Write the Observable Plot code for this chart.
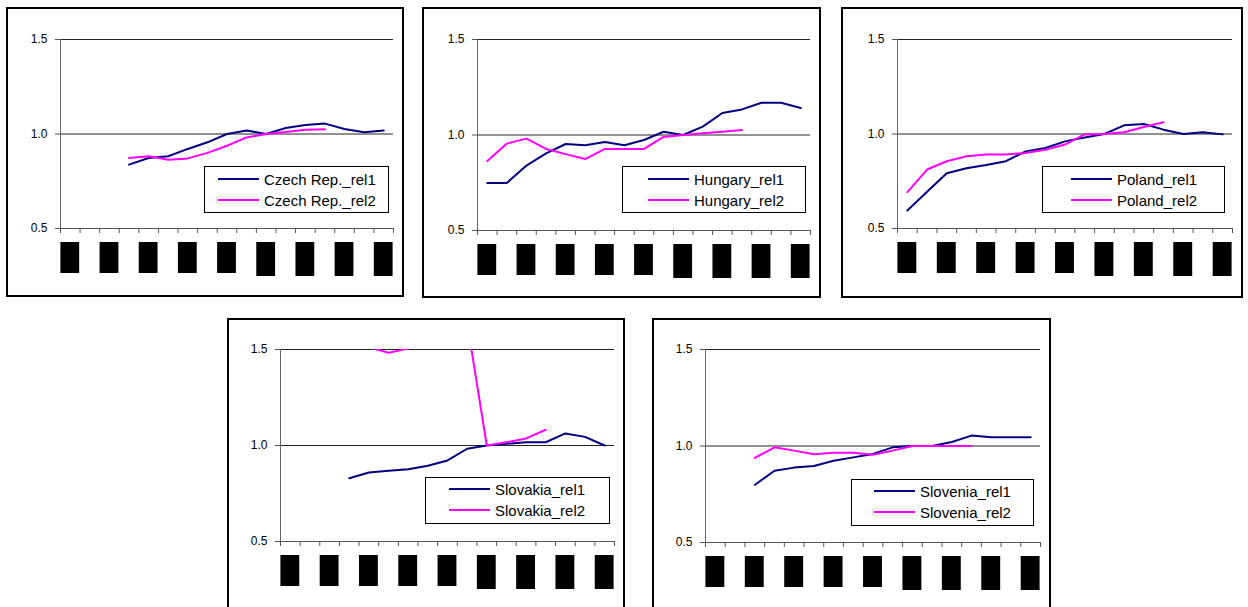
<!DOCTYPE html>
<html>
<head>
<meta charset="utf-8">
<script src="https://cdn.jsdelivr.net/npm/d3@7"></script>
<script src="https://cdn.jsdelivr.net/npm/@observablehq/plot@0.6"></script>
<style>
  html, body { margin: 0; padding: 0; background: #fff; }
  body { width: 1248px; height: 607px; overflow: hidden; position: relative;
         font-family: "Liberation Sans", Arial, sans-serif; }
  .frame { position: absolute; border: 2px solid #000; box-sizing: border-box; background: #fff; }
  .chart { position: absolute; }
  .legend { position: absolute; border: 1px solid #000; box-sizing: border-box; background: #fff; }
  .legend .sw { position: absolute; height: 2px; width: 41px; }
  .legend .lb { position: absolute; font-size: 15px; line-height: 17px; white-space: nowrap; color: #000; }
</style>
</head>
<body>
<script>
// ---- data ----
const years = ["1990","1991","1992","1993","1994","1995","1996","1997","1998","1999",
               "2000","2001","2002","2003","2004","2005","2006"];
const tickLabels = ["1990","1992","1994","1996","1998","2000","2002","2004","2006"];
const yTicks = [0.5, 1.0, 1.5];

const czechRel1    = [null,null,null,0.838,0.873,0.882,0.921,0.956,1.000,1.019,1.000,1.032,1.048,1.055,1.026,1.009,1.018];
const czechRel2    = [null,null,null,0.873,0.882,0.864,0.871,0.900,0.938,0.982,1.000,1.010,1.023,1.025,null,null,null];
const hungaryRel1  = [0.749,0.749,0.840,0.904,0.953,0.946,0.963,0.946,0.974,1.017,1.000,1.044,1.115,1.134,1.169,1.169,1.141];
const hungaryRel2  = [0.864,0.955,0.981,0.927,0.900,0.874,0.927,0.927,0.927,0.990,1.000,1.009,1.017,1.026,null,null,null];
const polandRel1   = [0.595,0.694,0.792,0.819,0.836,0.856,0.908,0.926,0.961,0.982,1.000,1.046,1.053,1.023,1.000,1.009,0.998];
const polandRel2   = [0.692,0.812,0.856,0.882,0.891,0.891,0.900,0.917,0.944,0.998,1.000,1.009,1.037,1.062,null,null,null];
const slovakiaRel1 = [null,null,null,0.829,0.859,0.868,0.876,0.895,0.922,0.983,1.000,1.009,1.017,1.017,1.063,1.045,1.000];
const slovakiaRel2 = [null,null,null,1.550,1.512,1.483,1.505,1.550,1.600,1.640,1.000,1.017,1.037,1.082,null,null,null];
const sloveniaRel1 = [null,null,0.798,0.872,0.888,0.896,0.924,0.941,0.959,0.993,1.000,1.000,1.021,1.054,1.045,1.045,1.045];
const sloveniaRel2 = [null,null,0.938,0.993,0.976,0.957,0.965,0.965,0.955,0.976,1.000,1.000,1.000,1.000,null,null,null];

const seriesNames = ["_rel1", "_rel2"];
const colors = ["#000080", "#ff00ff"];

// ---- layout (page pixels) ----
const panels = [
  {name: "Czech Rep.", r1: czechRel1,    r2: czechRel2,
   frame: {l: 6, t: 7, w: 398, h: 290}, area: {x0: 60, x1: 393, yT: 39, yB: 228},
   legend: {l: 204, t: 166, w: 185, h: 47, pad: 14, rows: [13, 34]}},
  {name: "Hungary",    r1: hungaryRel1,  r2: hungaryRel2,
   frame: {l: 422, t: 7, w: 399, h: 291}, area: {x0: 477, x1: 810, yT: 39, yB: 230},
   legend: {l: 622, t: 166, w: 184, h: 47, pad: 26, rows: [13, 34]}},
  {name: "Poland",     r1: polandRel1,   r2: polandRel2,
   frame: {l: 841, t: 7, w: 402, h: 291}, area: {x0: 897, x1: 1232, yT: 39, yB: 228},
   legend: {l: 1042, t: 166, w: 183, h: 47, pad: 29, rows: [13, 34]}},
  {name: "Slovakia",   r1: slovakiaRel1, r2: slovakiaRel2,
   frame: {l: 227, t: 318, w: 398, h: 302}, area: {x0: 280, x1: 614, yT: 349, yB: 541},
   legend: {l: 425, t: 477, w: 185, h: 47, pad: 24, rows: [12, 33]}},
  {name: "Slovenia",   r1: sloveniaRel1, r2: sloveniaRel2,
   frame: {l: 652, t: 318, w: 399, h: 302}, area: {x0: 705, x1: 1040, yT: 349, yB: 542},
   legend: {l: 851, t: 479, w: 183, h: 47, pad: 23, rows: [12, 33]}}
];

const bounds = d3.range(-0.5, years.length, 1);

for (const p of panels) {
  const f = p.frame, a = p.area;
  const frameDiv = document.createElement("div");
  frameDiv.className = "frame";
  Object.assign(frameDiv.style, {left: f.l + "px", top: f.t + "px", width: f.w + "px", height: f.h + "px"});
  document.body.appendChild(frameDiv);

  const toRows = (vals) => vals.map((v, i) => ({i, year: years[i], v})).filter(d => d.v != null);
  const rows1 = toRows(p.r1), rows2 = toRows(p.r2);
  const pxPerUnit = (a.yB - a.yT) / 1.0;
  const boxes = tickLabels.map(lab => {
    const i = years.indexOf(lab);
    const tall = +lab >= 2000;
    return {i, label: lab,
            top: 0.5 - 14 / pxPerUnit,
            bottom: 0.5 - (tall ? 48 : 45) / pxPerUnit};
  });

  const chart = Plot.plot({
    width: f.w, height: f.h,
    marginLeft: a.x0 - f.l, marginRight: f.l + f.w - a.x1,
    marginTop: a.yT - f.t, marginBottom: f.t + f.h - a.yB,
    x: {type: "linear", domain: [-0.5, years.length - 0.5], axis: null, label: null},
    y: {type: "linear", domain: [0.5, 1.5], axis: null, label: null},
    style: {background: "transparent", fontFamily: "Liberation Sans, Arial, sans-serif", overflow: "visible"},
    marks: [
      Plot.ruleY([1.0, 1.5], {stroke: "#222", strokeWidth: 1}),
      Plot.ruleY([0.5], {stroke: "#555", strokeWidth: 1}),
      Plot.ruleX([-0.5], {stroke: "#666", strokeWidth: 1}),
      Plot.axisY(yTicks, {tickSize: 5, tickPadding: 8, tickFormat: d3.format(".1f"), label: null,
                          fontSize: 12, stroke: "#555", fill: "#000"}),
      Plot.axisX(bounds, {tickSize: 5, tickFormat: () => "", label: null, stroke: "#555"}),
      Plot.rect(boxes, {x1: d => d.i - 0.5, x2: d => d.i + 0.5, y1: "top", y2: "bottom",
                        fill: "#000", insetLeft: 0.4, insetRight: 0.4}),
      Plot.line(rows1, {x: "i", y: "v", stroke: colors[0], strokeWidth: 2, clip: true}),
      Plot.line(rows2, {x: "i", y: "v", stroke: colors[1], strokeWidth: 2, clip: true})
    ]
  });
  chart.classList.add("chart");
  chart.style.left = f.l + "px";
  chart.style.top = f.t + "px";
  document.body.appendChild(chart);

  const L = p.legend;
  const lg = document.createElement("div");
  lg.className = "legend";
  Object.assign(lg.style, {left: L.l + "px", top: L.t + "px", width: L.w + "px", height: L.h + "px"});
  seriesNames.forEach((s, k) => {
    const sw = document.createElement("div");
    sw.className = "sw";
    Object.assign(sw.style, {left: (L.pad - 1) + "px", top: (L.rows[k] - 2) + "px", background: colors[k]});
    const lb = document.createElement("div");
    lb.className = "lb";
    lb.textContent = p.name + s;
    Object.assign(lb.style, {left: (L.pad + 45) + "px", top: (L.rows[k] - 9.5) + "px"});
    lg.appendChild(sw); lg.appendChild(lb);
  });
  document.body.appendChild(lg);
}
</script>
</body>
</html>
